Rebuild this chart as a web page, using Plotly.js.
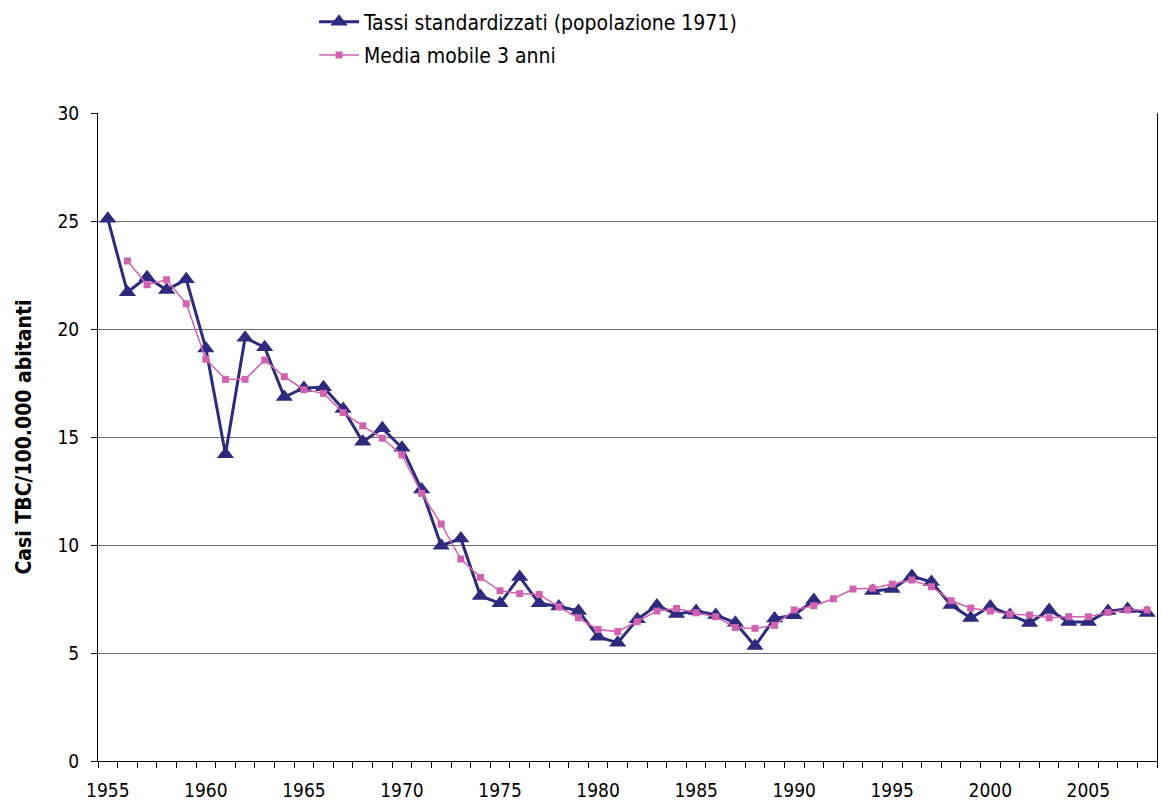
<!DOCTYPE html>
<html><head><meta charset="utf-8">
<script src="https://cdn.plot.ly/plotly-3.0.1.min.js"></script>
<style>html,body{margin:0;padding:0;background:#fff}#chart{width:1162px;height:808px}</style>
</head><body><div id="chart"></div>
<script>
const years = [1955,1956,1957,1958,1959,1960,1961,1962,1963,1964,1965,1966,1967,1968,1969,1970,1971,1972,1973,1974,1975,1976,1977,1978,1979,1980,1981,1982,1983,1984,1985,1986,1987,1988,1989,1990,1991,1992,1993,1994,1995,1996,1997,1998,1999,2000,2001,2002,2003,2004,2005,2006,2007,2008];
const tassi = [25.1,21.7,22.4,21.8,22.3,19.1,14.2,19.6,19.15,16.85,17.27,17.3,16.3,14.78,15.4,14.5,12.57,9.97,10.3,7.64,7.3,8.52,7.3,7.15,6.95,5.75,5.47,6.56,7.2,6.8,6.95,6.76,6.4,5.32,6.6,6.75,7.45,null,null,7.87,7.96,8.56,8.29,7.22,6.62,7.15,6.76,6.39,6.99,6.44,6.44,6.94,7.04,6.85];
const media = [null,23.15,22.05,22.28,21.17,18.6,17.67,17.67,18.56,17.79,17.19,17.02,16.13,15.52,14.94,14.17,12.39,10.97,9.35,8.5,7.88,7.75,7.71,7.14,6.63,6.09,5.99,6.45,6.94,7.06,6.86,6.68,6.18,6.14,6.28,6.99,7.19,7.51,7.96,8.0,8.19,8.38,8.07,7.42,7.08,6.94,6.8,6.76,6.63,6.68,6.68,6.88,6.99,6.99];
const xTickVals = [1955,1960,1965,1970,1975,1980,1985,1990,1995,2000,2005];
const xTickText = ["1955","1960","1965","1970","1975","1980","1985","1990","1995","2000","2005"];
const yTickVals = [0,5,10,15,20,25,30];
const seriesNames = ["Tassi standardizzati (popolazione 1971)","Media mobile 3 anni"];

const navy = '#2E2A7E';
const pink = '#D262B0';
const font = 'DejaVu Sans Condensed, DejaVu Sans, sans-serif';

const traces = [
  {x: years, y: tassi, name: seriesNames[0], type: 'scatter', mode: 'lines+markers',
   connectgaps: false, legendgroup: 'a',
   line: {color: navy, width: 3}, marker: {symbol: 'triangle-up', size: 15, color: navy}},
  {x: years, y: media, name: seriesNames[1], type: 'scatter', mode: 'lines+markers',
   connectgaps: false, legendgroup: 'b',
   line: {color: pink, width: 1.5}, marker: {symbol: 'square', size: 7, color: pink}}
];

const layout = {
  width: 1162, height: 808,
  margin: {l: 98, r: 5, t: 113, b: 47, autoexpand: false},
  paper_bgcolor: '#fff', plot_bgcolor: '#fff',
  font: {family: font, size: 19, color: '#000'},
  showlegend: true,
  legend: {x: 0.204, y: 1.172, xanchor: 'left', yanchor: 'top',
           traceorder: 'grouped', tracegroupgap: 3, itemwidth: 40,
           font: {family: font, size: 21, color: '#000'}, bgcolor: 'rgba(0,0,0,0)'},
  xaxis: {type: 'linear', range: [1954.5, 2008.5], tickmode: 'array', tickvals: xTickVals,
          ticktext: xTickText, ticks: '', showgrid: false, zeroline: false,
          showline: true, linecolor: '#000', linewidth: 1, ticklabelstandoff: 12,
          tickfont: {family: font, size: 19, color: '#000'},
          minor: {ticks: 'outside', tick0: 1954.5, dtick: 1, ticklen: 6, tickcolor: '#000', tickwidth: 1, showgrid: false}},
  yaxis: {range: [0, 30], tickmode: 'array', tickvals: yTickVals, ticks: 'outside', ticklen: 6,
          tickcolor: '#000', showgrid: true, gridcolor: '#6e6e6e', gridwidth: 1, zeroline: false,
          showline: true, mirror: true, linecolor: '#000', linewidth: 1, ticklabelstandoff: 8,
          tickfont: {family: font, size: 19, color: '#000'},
          title: {text: 'Casi TBC/100.000 abitanti', standoff: 20,
                  font: {family: font, size: 21, color: '#000', weight: 'bold'}}}
};

Plotly.newPlot('chart', traces, layout, {displayModeBar: false, staticPlot: true});
</script></body></html>
